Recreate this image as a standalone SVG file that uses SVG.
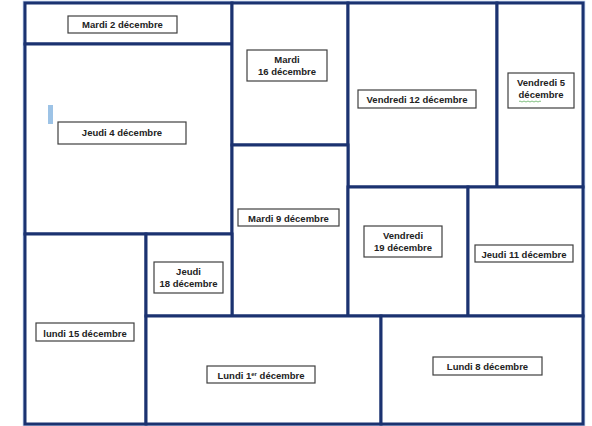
<svg xmlns="http://www.w3.org/2000/svg" width="592" height="426" viewBox="0 0 592 426">
<style>
.room{fill:#ffffff;stroke:#1b3270;stroke-width:3}
.halo{fill:none;stroke:#b4c6e7;stroke-width:4.5}
.lbl{fill:#ffffff;stroke:#3f3f3f;stroke-width:1.2}
text{font-family:"Liberation Sans","Open Sans",sans-serif;font-weight:bold;font-size:9.5px;fill:#222222;text-anchor:middle}
</style>
<rect width="592" height="426" fill="#ffffff"/>
<g id="halo">
<rect class="halo" x="25" y="3" width="558" height="421"/>
</g>
<g id="rooms">
<g id="r-mardi2"><rect class="room" x="25" y="3" width="207" height="41"/><rect class="lbl" x="68" y="16" width="109" height="17"/><text x="122.5" y="28">Mardi 2 décembre</text></g>
<g id="r-jeudi4"><rect class="room" x="25" y="44" width="207" height="190"/><rect x="48" y="105" width="5" height="19" fill="#9dc3e6"/><rect class="lbl" x="58" y="122" width="128" height="22"/><text x="122" y="136">Jeudi 4 décembre</text></g>
<g id="r-mardi16"><rect class="room" x="232" y="3" width="116" height="142"/><rect class="lbl" x="247" y="50" width="80" height="31"/><text x="287" y="63">Mardi</text><text x="287" y="75">16 décembre</text></g>
<g id="r-vendredi12"><rect class="room" x="348" y="3" width="149" height="184"/><rect class="lbl" x="358" y="90" width="118" height="18"/><text x="417" y="103">Vendredi 12 décembre</text></g>
<g id="r-vendredi5"><rect class="room" x="497" y="3" width="86" height="184"/><rect class="lbl" x="508" y="73" width="66" height="35"/><text x="541" y="86">Vendredi 5</text><text x="541" y="98">décembre</text><path d="M519,101.5 q1,-1 2,0 t2,0 t2,0 t2,0 t2,0 t2,0 t2,0 t2,0 t2,0 t2,0 t2,0" fill="none" stroke="#5fae5f" stroke-width="0.8"/></g>
<g id="r-mardi9"><rect class="room" x="232" y="145" width="116" height="171"/><rect class="lbl" x="238" y="209" width="101" height="17"/><text x="288.5" y="221.5">Mardi 9 décembre</text></g>
<g id="r-vendredi19"><rect class="room" x="348" y="187" width="120" height="129"/><rect class="lbl" x="364" y="226" width="78" height="31"/><text x="403" y="239">Vendredi</text><text x="403" y="251">19 décembre</text></g>
<g id="r-jeudi11"><rect class="room" x="468" y="187" width="115" height="129"/><rect class="lbl" x="475" y="245" width="98" height="17"/><text x="524" y="258">Jeudi 11 décembre</text></g>
<g id="r-lundi15"><rect class="room" x="25" y="234" width="121" height="190"/><rect class="lbl" x="36" y="323" width="98" height="18"/><text x="85" y="336.5">lundi 15 décembre</text></g>
<g id="r-jeudi18"><rect class="room" x="146" y="234" width="86" height="82"/><rect class="lbl" x="154" y="262" width="69" height="31"/><text x="188.5" y="275">Jeudi</text><text x="188.5" y="287">18 décembre</text></g>
<g id="r-lundi1"><rect class="room" x="146" y="316" width="235" height="108"/><rect class="lbl" x="207" y="366" width="108" height="17"/><text x="261" y="379">Lundi 1<tspan font-size="6" dy="-3.5">er</tspan><tspan dy="3.5"> décembre</tspan></text></g>
<g id="r-lundi8"><rect class="room" x="381" y="316" width="202" height="108"/><rect class="lbl" x="433" y="357" width="109" height="18"/><text x="487.5" y="370">Lundi 8 décembre</text></g>
</g>
</svg>
